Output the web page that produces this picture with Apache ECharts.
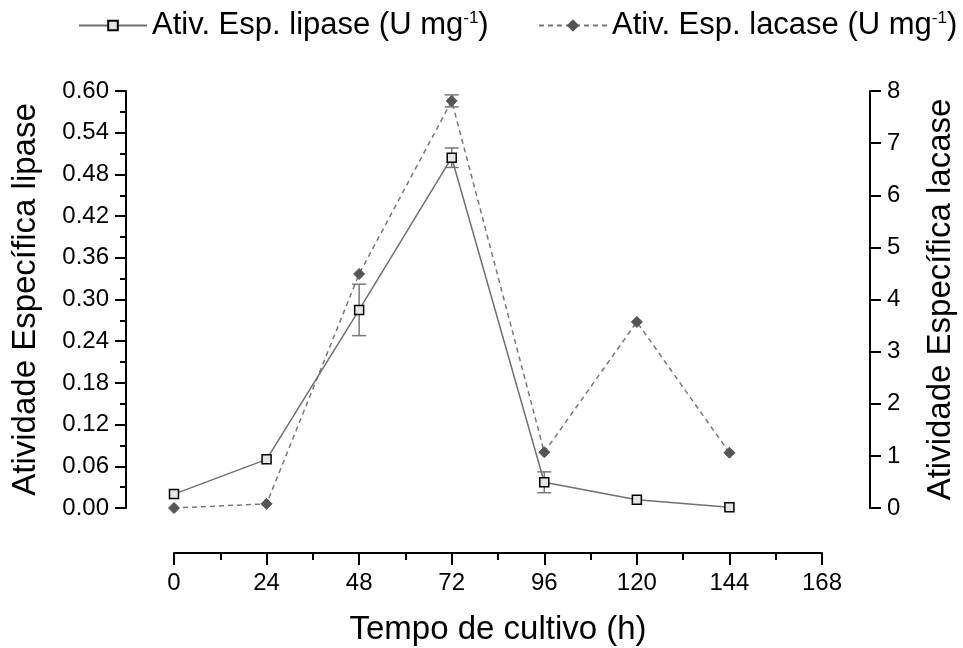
<!DOCTYPE html>
<html>
<head>
<meta charset="utf-8">
<script src="https://cdn.jsdelivr.net/npm/echarts@6/dist/echarts.min.js"></script>
<style>
  html, body { margin: 0; padding: 0; background: #fff; }
  #chart { width: 963px; height: 648px; }
</style>
</head>
<body>
<div id="chart"></div>
<script>
// tempo de cultivo (h)
var hours = [0, 24, 48, 72, 96, 120, 144];
// atividade especifica lipase (U mg-1) e desvio
var lipase = [0.020, 0.070, 0.285, 0.504, 0.037, 0.012, 0.001];
var lipaseErr = [0, 0, 0.037, 0.014, 0.015, 0, 0];
// atividade especifica lacase (U mg-1) e desvio
var lacase = [0.0, 0.08, 4.49, 7.81, 1.07, 3.57, 1.06];
var lacaseErr = [0, 0, 0, 0.115, 0, 0, 0];

var xTicks = [0, 24, 48, 72, 96, 120, 144, 168];

var font = "Liberation Sans";
var nameLipase = "Ativ. Esp. lipase (U mg-1)";
var nameLacase = "Ativ. Esp. lacase (U mg-1)";

function pairs(ys) {
  return hours.map(function (h, i) { return [h, ys[i]]; });
}
function errPairs(ys, es) {
  var out = [];
  for (var i = 0; i < hours.length; i++) {
    if (es[i] > 0) out.push([hours[i], ys[i], es[i]]);
  }
  return out;
}

// barras de erro
function renderErr(params, api) {
  var x = api.value(0), y = api.value(1), e = api.value(2);
  var top = api.coord([x, y + e]);
  var bot = api.coord([x, y - e]);
  var w = 7;
  var st = { stroke: "#777", lineWidth: 1.5 };
  return {
    type: "group",
    children: [
      { type: "line", shape: { x1: top[0], y1: top[1], x2: bot[0], y2: bot[1] }, style: st },
      { type: "line", shape: { x1: top[0] - w, y1: top[1], x2: top[0] + w, y2: top[1] }, style: st },
      { type: "line", shape: { x1: bot[0] - w, y1: bot[1], x2: bot[0] + w, y2: bot[1] }, style: st }
    ]
  };
}

function legendItem(name, left) {
  return {
    data: [name],
    left: left,
    top: 5,
    itemWidth: 68,
    itemHeight: 12,
    itemGap: 4,
    formatter: function (n) {
      return "{t|" + n.replace(" mg-1)", " mg}") + "{s|-1}{t|)}";
    },
    textStyle: {
      rich: {
        t: { fontFamily: font, fontSize: 31, color: "#000" },
        s: { fontFamily: font, fontSize: 17, color: "#000", verticalAlign: "top", padding: [0, 0, 14, 0] }
      }
    }
  };
}

var chart = echarts.init(document.getElementById("chart"));

var tickStyle = { color: "#000", width: 2 };

var option = {
  backgroundColor: "#fff",
  animation: false,
  legend: [legendItem(nameLipase, 73), legendItem(nameLacase, 533)],
  grid: { left: 174, right: 141, top: 91, bottom: 140, outerBoundsMode: "none", containLabel: false },
  xAxis: {
    type: "value",
    min: 0,
    max: 168,
    interval: 24,
    offset: 45,
    position: "bottom",
    name: "Tempo de cultivo (h)",
    nameLocation: "middle",
    nameGap: 60,
    nameTextStyle: { fontFamily: font, fontSize: 33, color: "#000" },
    axisLine: { onZero: false, lineStyle: tickStyle },
    axisTick: { length: 12, lineStyle: tickStyle },
    minorTick: { show: true, splitNumber: 2, length: 7, lineStyle: tickStyle },
    splitLine: { show: false },
    axisLabel: {
      margin: 18,
      fontFamily: font,
      fontSize: 24,
      color: "#000",
      customValues: xTicks
    }
  },
  yAxis: [
    {
      type: "value",
      position: "left",
      min: 0,
      max: 0.6,
      interval: 0.06,
      offset: 48,
      name: "Atividade Específica lipase",
      nameLocation: "middle",
      nameGap: 84,
      nameTextStyle: { fontFamily: font, fontSize: 33, color: "#000" },
      axisLine: { show: true, onZero: false, lineStyle: tickStyle },
      axisTick: { show: true, length: 11, lineStyle: tickStyle },
      minorTick: { show: true, splitNumber: 2, length: 6, lineStyle: tickStyle },
      splitLine: { show: false },
      axisLabel: {
        margin: 17,
        fontFamily: font,
        fontSize: 24,
        color: "#000",
        formatter: function (v) { return v.toFixed(2); }
      }
    },
    {
      type: "value",
      position: "right",
      min: 0,
      max: 8,
      interval: 1,
      offset: 48,
      name: "Atividade Específica lacase",
      nameLocation: "middle",
      nameGap: 54,
      nameTextStyle: { fontFamily: font, fontSize: 33, color: "#000" },
      axisLine: { show: true, onZero: false, lineStyle: tickStyle },
      axisTick: { show: true, length: 11, lineStyle: tickStyle },
      splitLine: { show: false },
      axisLabel: {
        margin: 17,
        fontFamily: font,
        fontSize: 24,
        color: "#000"
      }
    }
  ],
  series: [
    {
      name: nameLacase,
      type: "line",
      yAxisIndex: 1,
      data: pairs(lacase),
      clip: false,
      symbol: "diamond",
      symbolSize: 11,
      itemStyle: { color: "#555", borderColor: "#555", borderWidth: 1 },
      lineStyle: { color: "#777", width: 1.5, type: [5, 4] },
      z: 3
    },
    {
      name: nameLipase,
      type: "line",
      yAxisIndex: 0,
      data: pairs(lipase),
      clip: false,
      symbol: "rect",
      symbolSize: 9,
      itemStyle: { color: "#e6e6e6", borderColor: "#000", borderWidth: 1.5 },
      lineStyle: { color: "#707070", width: 1.5 },
      z: 4
    },
    {
      type: "custom",
      yAxisIndex: 0,
      data: errPairs(lipase, lipaseErr),
      renderItem: renderErr,
      clip: false,
      z: 2
    },
    {
      type: "custom",
      yAxisIndex: 1,
      data: errPairs(lacase, lacaseErr),
      renderItem: renderErr,
      clip: false,
      z: 2
    }
  ]
};

chart.setOption(option);
</script>
</body>
</html>
